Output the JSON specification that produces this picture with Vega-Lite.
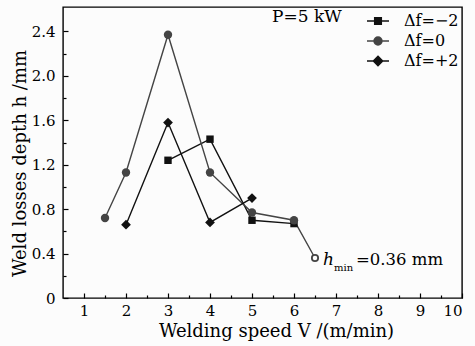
{
  "$schema": "https://vega.github.io/schema/vega-lite/v6.json",
  "width": 399,
  "height": 291,
  "autosize": {"type": "none"},
  "padding": {"left": 63, "top": 7, "right": 13, "bottom": 48},
  "background": "#fcfcfc",
  "config": {
    "font": "DejaVu Serif",
    "view": {"stroke": "#000", "strokeWidth": 1.4},
    "axis": {"domain": false, "grid": false, "tickColor": "#000", "tickWidth": 1.2, "labelColor": "#000", "titleColor": "#000", "labelFont": "DejaVu Serif", "titleFont": "DejaVu Serif", "labelFontSize": 15, "titleFontSize": 18, "titleFontWeight": "normal"}
  },
  "data": {
    "values": [
      {"series": "Δf=−2", "v": 3, "h": 1.24, "note": ""},
      {"series": "Δf=−2", "v": 4, "h": 1.43, "note": ""},
      {"series": "Δf=−2", "v": 5, "h": 0.70, "note": ""},
      {"series": "Δf=−2", "v": 6, "h": 0.67, "note": ""},
      {"series": "Δf=0", "v": 1.5, "h": 0.72, "note": ""},
      {"series": "Δf=0", "v": 2, "h": 1.13, "note": ""},
      {"series": "Δf=0", "v": 3, "h": 2.37, "note": ""},
      {"series": "Δf=0", "v": 4, "h": 1.13, "note": ""},
      {"series": "Δf=0", "v": 5, "h": 0.77, "note": ""},
      {"series": "Δf=0", "v": 6, "h": 0.70, "note": ""},
      {"series": "Δf=0", "v": 6.5, "h": 0.36, "note": "min"},
      {"series": "Δf=+2", "v": 2, "h": 0.66, "note": ""},
      {"series": "Δf=+2", "v": 3, "h": 1.58, "note": ""},
      {"series": "Δf=+2", "v": 4, "h": 0.68, "note": ""},
      {"series": "Δf=+2", "v": 5, "h": 0.90, "note": ""}
    ]
  },
  "resolve": {"scale": {"fill": "independent"}, "legend": {"fill": "independent"}, "axis": {"x": "independent", "y": "independent"}},
  "layer": [
    {
      "mark": {"type": "line", "strokeWidth": 1.4},
      "encoding": {
        "x": {"field": "v", "type": "quantitative", "scale": {"domain": [0.5, 10], "nice": false, "zero": false},
          "axis": {"orient": "bottom", "values": [1,2,3,4,5,6,7,8,9,10], "tickSize": -5, "labelPadding": 10, "title": "Welding speed V /(m/min)", "titleX": 213, "titleY": 38, "titleBaseline": "alphabetic"}},
        "y": {"field": "h", "type": "quantitative", "scale": {"domain": [0, 2.62], "nice": false},
          "axis": {"orient": "left", "values": [0,0.4,0.8,1.2,1.6,2.0,2.4], "tickSize": -5, "labelPadding": 13, "labelExpr": "datum.value == 0 ? '0' : format(datum.value, '.1f')", "title": "Weld losses depth h /mm", "titleX": -38, "titleY": 156, "titleBaseline": "alphabetic"}},
        "color": {"field": "series", "type": "nominal", "scale": {"domain": ["Δf=−2", "Δf=0", "Δf=+2"], "range": ["#111111", "#444444", "#111111"]}, "legend": null}
      }
    },
    {
      "mark": {"type": "point", "opacity": 0},
      "encoding": {
        "x": {"field": "v", "type": "quantitative", "axis": {"orient": "bottom", "values": [1.5,2.5,3.5,4.5,5.5,6.5,7.5,8.5,9.5], "tickSize": -3, "labels": false, "title": null}},
        "y": {"field": "h", "type": "quantitative", "axis": {"orient": "left", "values": [0.2,0.6,1.0,1.4,1.8,2.2], "tickSize": -3, "labels": false, "title": null}}
      }
    },
    {
      "transform": [{"filter": "datum.note != 'min' && datum.series == 'Δf=−2'"}],
      "mark": {"type": "point", "filled": true, "shape": "square", "size": 55, "color": "#111111", "opacity": 1},
      "encoding": {
        "x": {"field": "v", "type": "quantitative", "axis": null},
        "y": {"field": "h", "type": "quantitative", "axis": null}
      }
    },
    {
      "transform": [{"filter": "datum.note != 'min' && datum.series == 'Δf=0'"}],
      "mark": {"type": "point", "filled": true, "shape": "circle", "size": 70, "color": "#444444", "opacity": 1},
      "encoding": {
        "x": {"field": "v", "type": "quantitative", "axis": null},
        "y": {"field": "h", "type": "quantitative", "axis": null}
      }
    },
    {
      "transform": [{"filter": "datum.note != 'min' && datum.series == 'Δf=+2'"}],
      "mark": {"type": "point", "filled": true, "shape": "diamond", "size": 95, "color": "#111111", "opacity": 1},
      "encoding": {
        "x": {"field": "v", "type": "quantitative", "axis": null},
        "y": {"field": "h", "type": "quantitative", "axis": null}
      }
    },
    {
      "transform": [{"filter": "datum.note == 'min'"}],
      "mark": {"type": "point", "shape": "circle", "filled": false, "stroke": "#444444", "strokeWidth": 1.8, "size": 40, "fill": "#fcfcfc", "opacity": 1},
      "encoding": {
        "x": {"field": "v", "type": "quantitative", "axis": null},
        "y": {"field": "h", "type": "quantitative", "axis": null}
      }
    },
    {
      "transform": [{"filter": "datum.note == 'min'"}],
      "mark": {"type": "text", "text": "h", "fontStyle": "italic", "fontSize": 17, "align": "left", "baseline": "alphabetic", "dx": 8, "dy": 7, "color": "#000"},
      "encoding": {
        "x": {"field": "v", "type": "quantitative", "axis": null},
        "y": {"field": "h", "type": "quantitative", "axis": null}
      }
    },
    {
      "transform": [{"filter": "datum.note == 'min'"}],
      "mark": {"type": "text", "text": "min", "fontSize": 10, "align": "left", "baseline": "alphabetic", "dx": 19, "dy": 13, "color": "#000"},
      "encoding": {
        "x": {"field": "v", "type": "quantitative", "axis": null},
        "y": {"field": "h", "type": "quantitative", "axis": null}
      }
    },
    {
      "transform": [{"filter": "datum.note == 'min'"}],
      "mark": {"type": "text", "text": "=0.36 mm", "fontSize": 16.5, "align": "left", "baseline": "alphabetic", "dx": 41, "dy": 7, "color": "#000"},
      "encoding": {
        "x": {"field": "v", "type": "quantitative", "axis": null},
        "y": {"field": "h", "type": "quantitative", "axis": null}
      }
    },
    {
      "mark": {"type": "point", "filled": true, "opacity": 0},
      "encoding": {
        "x": {"field": "v", "type": "quantitative", "axis": null},
        "y": {"field": "h", "type": "quantitative", "axis": null},
        "fill": {"field": "series", "type": "nominal", "scale": {"domain": ["Δf=−2", "Δf=0", "Δf=+2"], "range": ["#111111", "#444444", "#111111"]},
          "legend": {"title": "P=5 kW", "titleOrient": "left", "titleAnchor": "start", "titleBaseline": "top", "titlePadding": 24, "titleFont": "DejaVu Serif", "titleFontSize": 17, "titleFontWeight": "normal", "titleColor": "#000",
            "orient": "none", "legendX": 209, "legendY": 2, "labelFont": "DejaVu Serif", "labelFontSize": 16, "labelColor": "#000", "labelOffset": 14, "symbolSize": 484, "symbolStrokeWidth": 1.5, "symbolStrokeColor": "#111111", "symbolOpacity": 1, "rowPadding": -1, "padding": 0,
            "encode": {"symbols": {"update": {
              "opacity": {"value": 1},
              "fillOpacity": {"value": 1},
              "strokeOpacity": {"value": 1},
              "stroke": {"signal": "datum.value === 'Δf=0' ? '#444444' : '#111111'"},
              "strokeWidth": {"value": 1.5},
              "shape": {"signal": "datum.value === 'Δf=0' ? 'M-1,0H1M0.36,0A0.36,0.36,0,1,1,-0.36,0A0.36,0.36,0,1,1,0.36,0Z' : datum.value === 'Δf=+2' ? 'M-1,0H1M0,-0.42L0.42,0L0,0.42L-0.42,0Z' : 'M-1,0H1M-0.3,-0.3H0.3V0.3H-0.3Z'"}
            }}}}}
      }
    }
  ]
}
